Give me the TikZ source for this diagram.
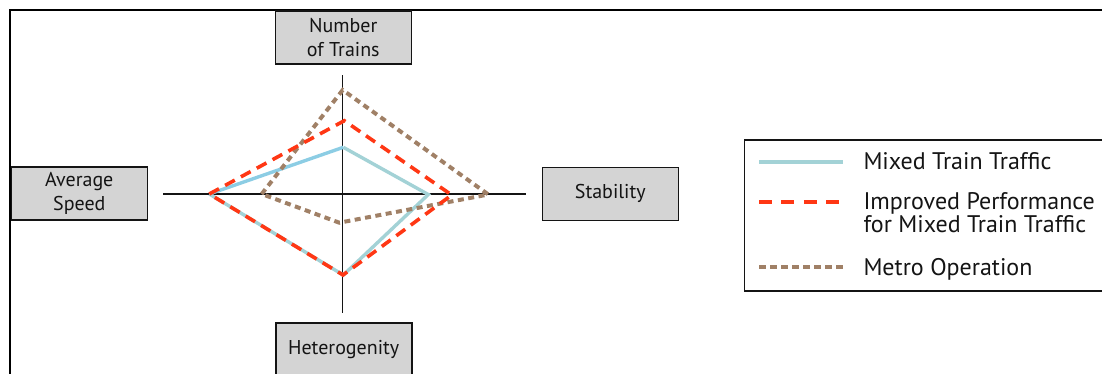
\documentclass[tikz,border=0pt]{standalone}
\usepackage{fontspec}
\setmainfont{PT Sans}
\definecolor{mixA}{RGB}{163,210,214}
\definecolor{mixB}{RGB}{140,205,228}
\definecolor{impr}{RGB}{255,55,20}
\definecolor{metro}{RGB}{160,128,102}
\definecolor{boxgray}{RGB}{212,212,212}
\definecolor{ink}{RGB}{20,20,20}
\begin{document}
\begin{tikzpicture}[x=1pt,y=-1pt,
  lbl/.style={draw=ink, line width=1.6pt, fill=boxgray, minimum width=136, minimum height=53,
              inner sep=0, align=center, text=ink, font=\fontsize{20}{24}\selectfont},
  leg/.style={inner sep=0, text=ink, font=\fontsize{24}{20}\selectfont},
  axisline/.style={draw=ink, line width=1.5pt},
  mixline/.style={line width=3.4pt, line join=miter},
  imprline/.style={draw=impr, line width=3.6pt, dash pattern=on 11 off 7},
  metroline/.style={draw=metro, line width=4pt, dash pattern=on 6 off 4.5}]
\useasboundingbox (0,0) rectangle (1102,373);
\clip (0,0) rectangle (1102,373);
% outer frame
\draw[line width=2pt, draw=black] (10,400) -- (10,9.5) -- (1130,9.5);
% axes
\coordinate (axT) at (342.7,75);
\coordinate (axB) at (342.7,313);
\coordinate (axL) at (163,194);
\coordinate (axR) at (526,194);
\draw[axisline] (axL) -- (axR);
\draw[axisline] (axT) -- (axB);
% axis labels
\node[lbl] (ntr) at (343.3,37.7) {Number\\of Trains};
\node[lbl] (avs) at (79.3,193.7) {Average\\Speed};
\node[lbl] (stb) at (610.3,193.8) {Stability};
\node[lbl] (het) at (343.7,349.7) {Heterogenity};
% data points
\coordinate (bT) at (343.3,147.3);
\coordinate (bR) at (428.3,194.5);
\coordinate (bB) at (343.3,275);
\coordinate (bL) at (209.3,194);
\coordinate (rT) at (344.3,120.7);
\coordinate (rR) at (451.7,195);
\coordinate (rB) at (343,275);
\coordinate (rL) at (209.3,194);
\coordinate (mT) at (342.7,90);
\coordinate (mR) at (488.3,194.5);
\coordinate (mB) at (339.3,222.7);
\coordinate (mL) at (261.7,194);
% series
\draw[mixline, draw=mixA] (bT) -- (bR) -- (bB) -- (bL);
\draw[mixline, draw=mixB] (bL) -- (bT);
\draw[metroline] (mL) -- (mT) -- (mR) -- (mB) -- cycle;
\draw[imprline] (rL) -- (rT) -- (rR) -- (rB) -- cycle;
% legend
\draw[line width=1.6pt, draw=ink] (1130,140) -- (744.3,140) -- (744.3,290.7) -- (1130,290.7);
\coordinate (l1a) at (759,162.3);
\coordinate (l1b) at (843,162.3);
\coordinate (l2a) at (759,202.3);
\coordinate (l2b) at (843,202.3);
\coordinate (l3a) at (759,267.3);
\coordinate (l3b) at (843,267.3);
\draw[draw=mixA, line width=4pt] (l1a) -- (l1b);
\draw[draw=impr, line width=4pt, dash pattern=on 13 off 9.4] (l2a) -- (l2b);
\draw[draw=metro, line width=4pt, dash pattern=on 6.5 off 4.5] (l3a) -- (l3b);
\node[leg, anchor=base west] (t1) at (863.3,169.3) {Mixed Train Traffic};
\node[leg, anchor=base west] (t2) at (863.3,209.3) {\begin{tabular}[t]{@{}l@{}}Improved Performance\\for Mixed Train Traffic\end{tabular}};
\node[leg, anchor=base west] (t3) at (863.3,275) {Metro Operation};
\end{tikzpicture}
\end{document}
